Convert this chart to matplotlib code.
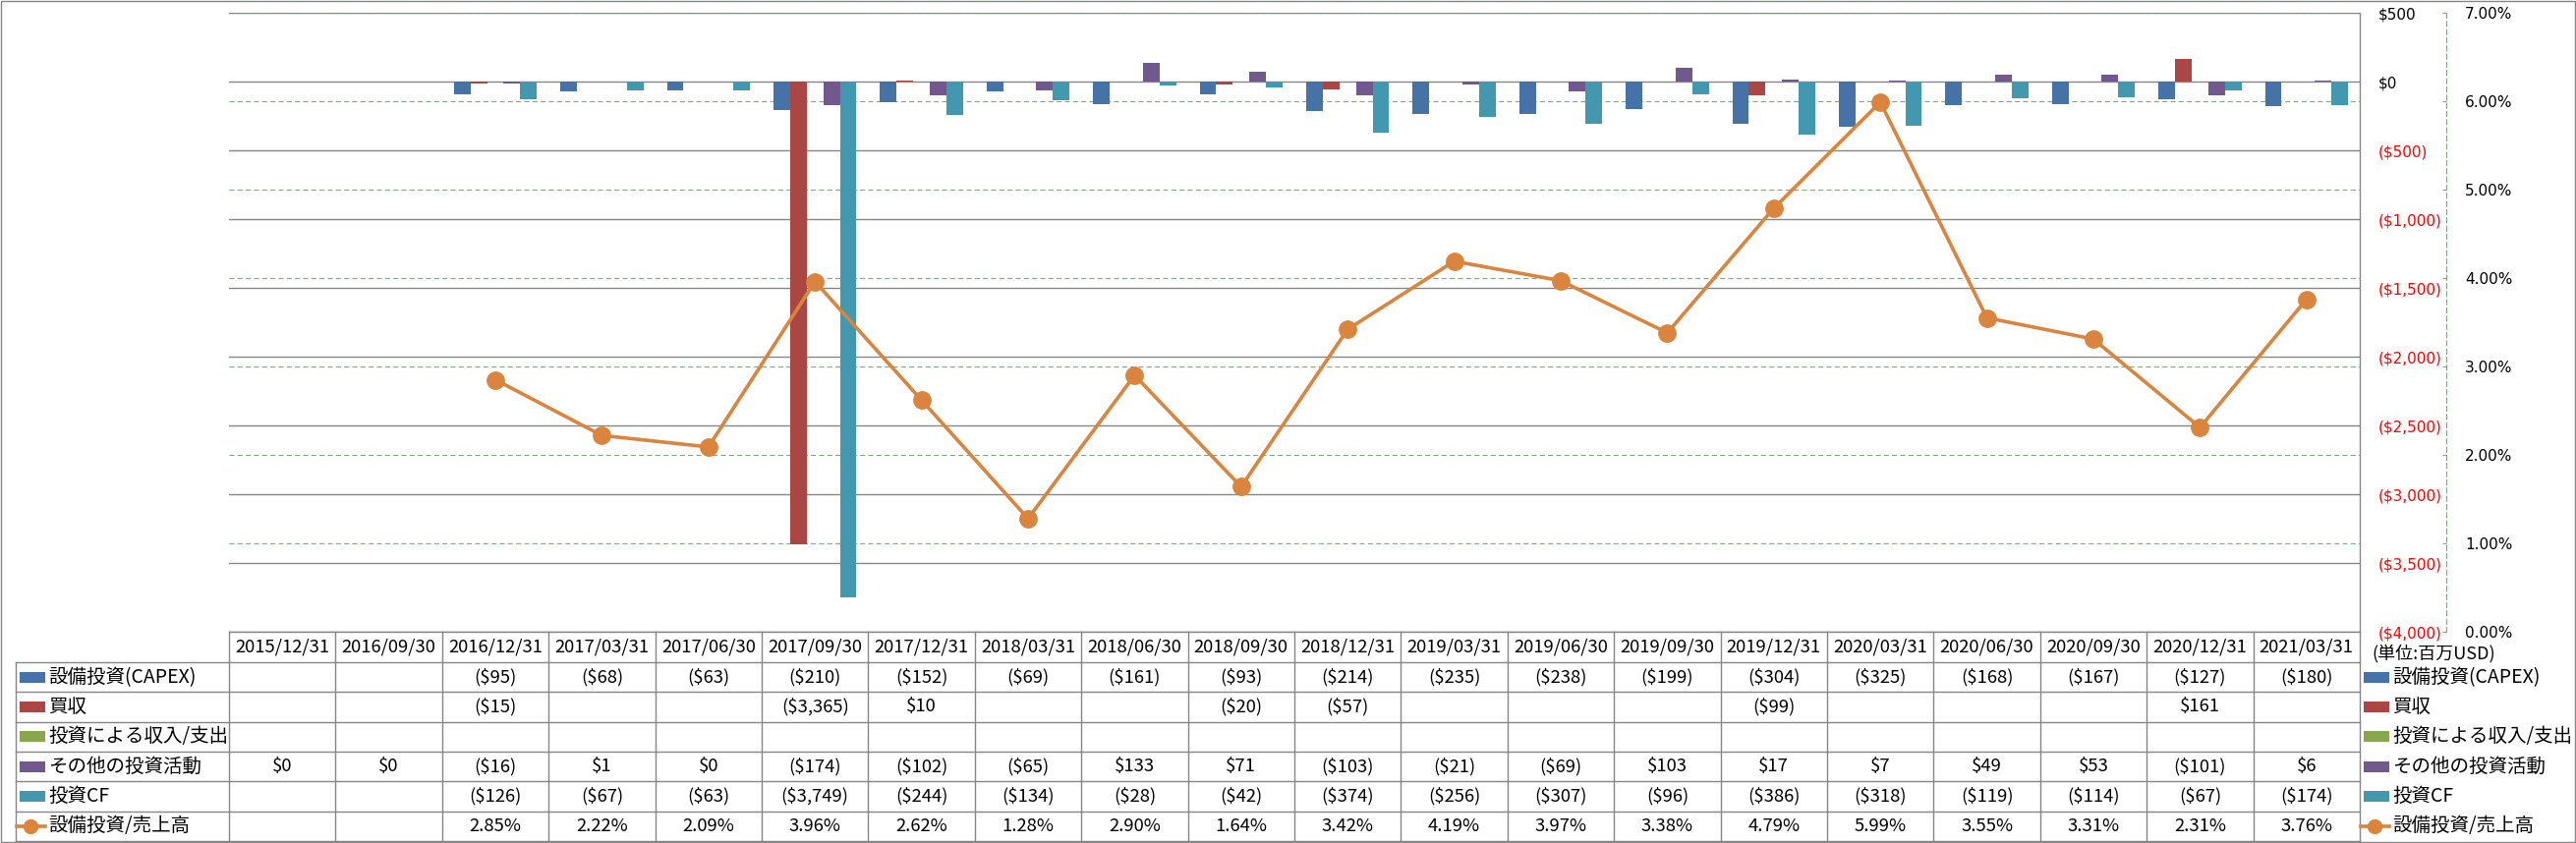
import numpy as np
import matplotlib
matplotlib.use("Agg")
import matplotlib.pyplot as plt
from matplotlib.transforms import blended_transform_factory
from matplotlib.patches import Rectangle

# ---------------- data ----------------
dates = ["2015/12/31", "2016/09/30", "2016/12/31", "2017/03/31", "2017/06/30",
         "2017/09/30", "2017/12/31", "2018/03/31", "2018/06/30", "2018/09/30",
         "2018/12/31", "2019/03/31", "2019/06/30", "2019/09/30", "2019/12/31",
         "2020/03/31", "2020/06/30", "2020/09/30", "2020/12/31", "2021/03/31"]
capex = [None, None, -95, -68, -63, -210, -152, -69, -161, -93,
         -214, -235, -238, -199, -304, -325, -168, -167, -127, -180]
acquisition = [None, None, -15, None, None, -3365, 10, None, None, -20,
               -57, None, None, None, -99, None, None, None, 161, None]
invest_io = [None, None, None, None, None, None, None, None, None, None,
             None, None, None, None, None, None, None, None, None, None]
other_inv = [0, 0, -16, 1, 0, -174, -102, -65, 133, 71,
             -103, -21, -69, 103, 17, 7, 49, 53, -101, 6]
invest_cf = [None, None, -126, -67, -63, -3749, -244, -134, -28, -42,
             -374, -256, -307, -96, -386, -318, -119, -114, -67, -174]
capex_ratio = [None, None, 2.85, 2.22, 2.09, 3.96, 2.62, 1.28, 2.90, 1.64,
               3.42, 4.19, 3.97, 3.38, 4.79, 5.99, 3.55, 3.31, 2.31, 3.76]

bar_names = ["設備投資(CAPEX)", "買収", "投資による収入/支出", "その他の投資活動", "投資CF"]
line_name = "設備投資/売上高"
unit_label = "(単位:百万USD)"
bar_series = [capex, acquisition, invest_io, other_inv, invest_cf]
bar_colors = ["#4572A7", "#AA4643", "#89A54E", "#71588F", "#4198AF"]
line_color = "#DB843D"

CJK = ["Noto Sans CJK JP", "DejaVu Sans"]


def fmt_money(v):
    if v is None:
        return ""
    if v < 0:
        return "(${:,.0f})".format(-v)
    return "${:,.0f}".format(v)


def fmt_pct(v):
    return "" if v is None else "{:.2f}%".format(v)


def arr(vals):
    return np.array([np.nan if v is None else v for v in vals], dtype=float)


# ---------------- figure ----------------
W, H = 2621, 858
fig = plt.figure(figsize=(W / 100, H / 100), dpi=100)
fig.patch.set_facecolor("white")
L, R, T, B = 233, 2401, 13, 643
rect = [L / W, (H - B) / H, (R - L) / W, (B - T) / H]

ax = fig.add_axes(rect)
ax2 = ax.twinx()
ax.set_zorder(3)
ax2.set_zorder(2)
ax.patch.set_visible(False)

n = len(dates)
x = np.arange(n)
bw = 0.156

for i, (vals, c) in enumerate(zip(bar_series, bar_colors)):
    ax.bar(x + (i - 2) * bw, arr(vals), width=bw, color=c, zorder=2, linewidth=0)

ax.plot(x, arr(capex_ratio), color=line_color, lw=2.6, marker="o", ms=12.5,
        mfc=line_color, mec=line_color, transform=ax2.transData, zorder=6,
        solid_joinstyle="round")

# primary axis (right)
yt = np.arange(-4000, 501, 500)
ax.set_xlim(-0.5, n - 0.5)
ax.set_ylim(-4000, 500)
ax.set_xticks([])
ax.set_yticks(yt, labels=[fmt_money(v) for v in yt])
ax.yaxis.tick_right()
ax.tick_params(axis="y", length=0, pad=13.7, labelsize=11)
for t, v in zip(ax.get_yticklabels(), yt):
    t.set_color("#FF0000" if v < 0 else "#000000")
for s in ["left", "top", "bottom"]:
    ax.spines[s].set_visible(False)
ax.spines["right"].set_color("#868686")
ax.spines["right"].set_linewidth(1.0)
ax.grid(axis="y", color="#868686", lw=1.0)
ax.set_axisbelow(True)

# secondary axis (percent)
pt = np.arange(0, 8, 1)
ax2.set_ylim(0, 7)
ax2.set_yticks(pt, labels=["{:.2f}%".format(v) for v in pt])
for s in ["left", "top", "bottom"]:
    ax2.spines[s].set_visible(False)
ax2.spines["right"].set_position(("outward", 63.4))
ax2.spines["right"].set_color("#00FF00")
ax2.spines["right"].set_linestyle((0, (4.5, 3)))
ax2.spines["right"].set_linewidth(0.8)
ax2.tick_params(axis="y", direction="in", length=3, color="#00FF00",
                pad=13.7, labelsize=11, width=0.8)
ax2.grid(axis="y", color="#00FF00", lw=0.8, ls=(0, (4.5, 3)))

# ---------------- data table ----------------
tab = fig.add_axes([0, 0, 1, 1], zorder=4)
tab.set_xlim(0, W)
tab.set_ylim(H, 0)
tab.axis("off")
tab.patch.set_visible(False)
trans = blended_transform_factory(ax.transData, tab.transData)

gc = "#868686"
head_top, head_bot = 643, 674
row_edges = np.linspace(674, 856, 7)
row_cent = (row_edges[:-1] + row_edges[1:]) / 2

tab.plot([L, R], [head_top, head_top], color=gc, lw=1.0)
for y in row_edges:
    tab.plot([16, R], [y, y], color=gc, lw=1.0)
tab.plot([16, 16], [head_bot, 856], color=gc, lw=1.0)
for b in np.arange(-0.5, n, 1.0):
    tab.plot([b, b], [head_top, 856], color=gc, lw=1.0, transform=trans)

for i, d in enumerate(dates):
    tab.text(i, (head_top + head_bot) / 2, d, transform=trans, ha="center",
             va="center", fontsize=13.3, family=CJK)

rows = [[fmt_money(v) for v in s] for s in bar_series] + [[fmt_pct(v) for v in capex_ratio]]
for r, vals in enumerate(rows):
    for i, s in enumerate(vals):
        if s:
            tab.text(i, row_cent[r], s, transform=trans, ha="center",
                     va="center", fontsize=13.3, family=CJK)

names = bar_names + [line_name]
for x0 in (20, 2405):
    for r, nm in enumerate(names):
        yc = row_cent[r]
        if r < len(bar_names):
            tab.add_patch(Rectangle((x0, yc - 5.5), 26, 11, color=bar_colors[r], lw=0))
        else:
            tab.plot([x0 - 3, x0 + 26], [yc, yc], color=line_color, lw=2.6)
            tab.plot([x0 + 11], [yc], marker="o", ms=10, color=line_color)
        tab.text(x0 + 29, yc, nm, ha="left", va="center", fontsize=14, family=CJK)

tab.text(2413, 665, unit_label, ha="left", va="center", fontsize=13, family=CJK)

tab.add_patch(Rectangle((1, 1), W - 2, 855.5, fill=False, edgecolor=gc, lw=1.0))

fig.savefig("out.png", dpi=100, facecolor="white")
